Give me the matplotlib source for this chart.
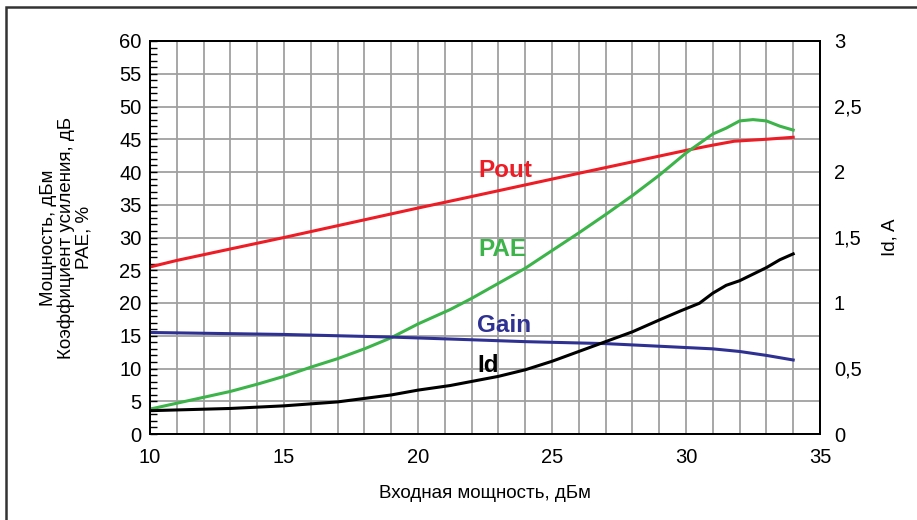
import matplotlib
matplotlib.use("Agg")
import matplotlib.pyplot as plt
from matplotlib.patches import Rectangle
from matplotlib.ticker import MultipleLocator, FuncFormatter

plt.rcParams['font.family'] = ['Liberation Sans', 'DejaVu Sans']

# input power, dBm
pout_x = [10, 11, 15, 20, 21.6, 26, 30, 31, 31.8, 33, 34]
pout_y = [25.5, 26.5, 30.0, 34.5, 35.9, 39.8, 43.3, 44.1, 44.7, 45.0, 45.3]

pae_x = [10, 12, 13, 14, 15, 16, 17, 18, 19, 20, 21.2, 22, 24, 25, 26, 27, 28, 29, 30, 31, 31.5, 32, 32.5, 33, 33.5, 34]
pae_y = [3.8, 5.6, 6.5, 7.6, 8.8, 10.2, 11.5, 13.0, 14.7, 16.8, 19.0, 20.7, 25.3, 28.0, 30.7, 33.5, 36.4, 39.5, 42.9, 45.8, 46.7, 47.8, 48.0, 47.8, 47.0, 46.4]

gain_x = [10, 15, 19, 21.2, 24, 27, 30, 31, 32, 33, 34]
gain_y = [15.5, 15.2, 14.8, 14.5, 14.1, 13.8, 13.2, 13.0, 12.6, 12.0, 11.3]

# drain current, A
id_x = [10, 13, 15, 17, 19, 20, 21.2, 23, 24, 25, 26, 27, 28, 29, 29.8, 30.5, 31, 31.5, 32, 32.5, 33, 33.5, 34]
id_a = [0.178, 0.195, 0.215, 0.245, 0.298, 0.335, 0.37, 0.44, 0.49, 0.555, 0.63, 0.705, 0.78, 0.87, 0.94, 0.998, 1.075, 1.135, 1.17, 1.22, 1.27, 1.33, 1.375]

red = '#ee1c25'
green = '#3cb44a'
blue = '#2e3192'

fig = plt.figure(figsize=(9.17, 5.2), dpi=100)
ax = fig.add_axes([150/917, 1-434/520, 670/917, 393/520])
ax2 = ax.twinx()

ax.plot(pout_x, pout_y, color=red, lw=2.2, zorder=3)
ax.plot(pae_x, pae_y, color=green, lw=2.2, zorder=3)
ax.plot(gain_x, gain_y, color=blue, lw=2.2, zorder=3)
ax2.plot(id_x, id_a, color='black', lw=2.2, zorder=3)

ax.set_xlim(10, 35)
ax.set_ylim(0, 60)
ax2.set_ylim(0, 3)

ax.xaxis.set_major_locator(MultipleLocator(5))
ax.xaxis.set_minor_locator(MultipleLocator(1))
ax.yaxis.set_major_locator(MultipleLocator(5))
ax.yaxis.set_minor_locator(MultipleLocator(1))
ax2.yaxis.set_major_locator(MultipleLocator(0.5))
ax2.yaxis.set_major_formatter(FuncFormatter(lambda v, p: ('%g' % v).replace('.', ',')))

ax.grid(True, which='major', axis='y', color='#a0a0a0', lw=1.3)
ax.grid(True, which='both', axis='x', color='#a0a0a0', lw=1.3)
ax.set_axisbelow(True)

ax.tick_params(axis='x', which='both', length=0, labelsize=14.5, pad=10)
ax.tick_params(axis='y', which='both', direction='in', length=5, width=1, labelsize=14.5, pad=6)
ax2.tick_params(axis='y', length=0, labelsize=14.5, pad=10)

for a in (ax, ax2):
    for s in a.spines.values():
        s.set_linewidth(1.3)
        s.set_color('black')

ax.set_xlabel('Входная мощность, дБм', fontsize=13.5, labelpad=13)
ax.set_ylabel('Мощность, дБм\nКоэффициент усиления, дБ\nPAE, %', fontsize=13.5, labelpad=19, linespacing=1.05)
ax2.set_ylabel('Id, A', fontsize=13.5, labelpad=14)

ax.text(22.25, 40.3, 'Pout', color=red, fontsize=17.5, fontweight='bold', va='center')
ax.text(22.25, 28.1, 'PAE', color=green, fontsize=17.5, fontweight='bold', va='center')
ax.text(22.2, 16.5, 'Gain', color=blue, fontsize=17.5, fontweight='bold', va='center')
ax.text(22.2, 10.5, 'Id', color='black', fontsize=17.5, fontweight='bold', va='center')

fig.patches.append(Rectangle((6/917, -0.01), 1.0, 1 - 7/520 + 0.01, transform=fig.transFigure,
                             fill=False, edgecolor='#333333', lw=1.8))

fig.savefig('out.png', dpi=100)
